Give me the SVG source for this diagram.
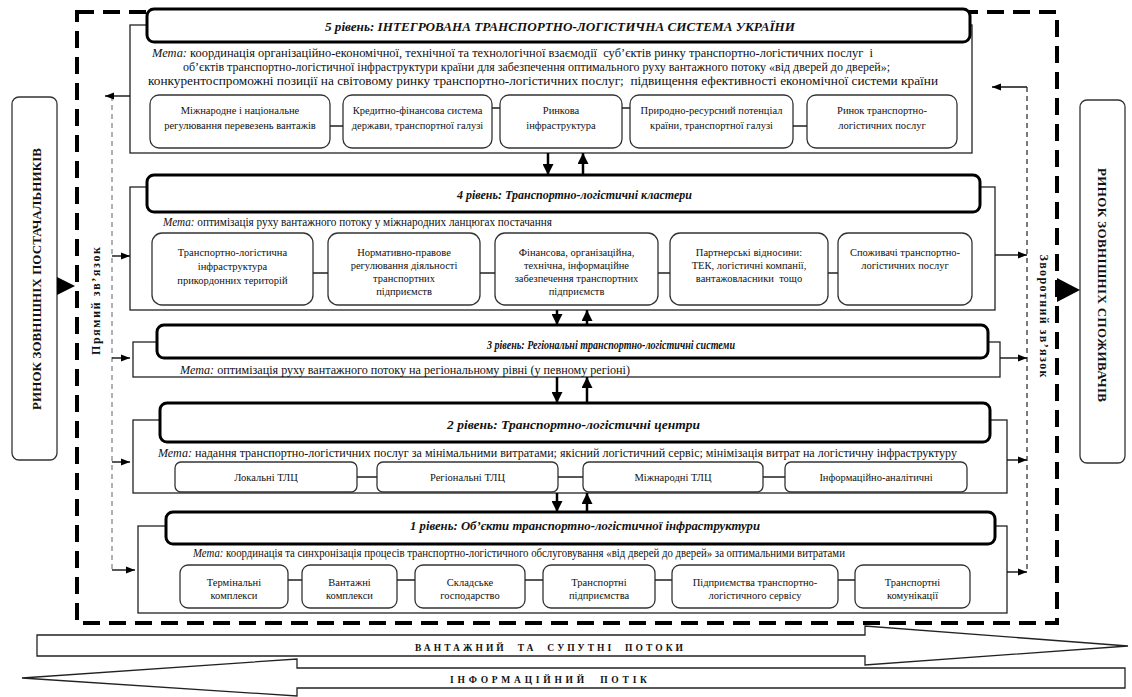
<svg xmlns="http://www.w3.org/2000/svg" width="1132" height="697" viewBox="0 0 1132 697">
<defs>
<style>
.t{font-family:"Liberation Serif","Times New Roman",serif;fill:#111}
.ttl{font-size:12.5px;font-weight:bold;font-style:italic}
.goal{font-size:11.5px}
.it{font-style:italic}
.bx{font-size:10.5px;text-anchor:middle}
.tb{fill:#fff;stroke:#000;stroke-width:3}
.fr{fill:#fff;stroke:#222;stroke-width:1.3}
.sb{fill:#fff;stroke:#333;stroke-width:1.3}
.ln{stroke:#222;stroke-width:1.3;fill:none}
.big{stroke:#000;stroke-width:2.5;fill:none}
.sm{stroke:#111;stroke-width:1.4;fill:none}
.side{font-size:13px;font-weight:bold;text-anchor:middle}
.fb{font-size:12px;font-weight:bold;text-anchor:middle}
.flow{fill:#fff;stroke:#222;stroke-width:1.3}
.ft{font-size:9.5px;font-weight:bold;white-space:pre}
.pre{white-space:pre}
</style>
<marker id="ah" markerUnits="userSpaceOnUse" markerWidth="11" markerHeight="11" viewBox="0 0 10 10" refX="10" refY="5" orient="auto"><path d="M0,0 L10,5 L0,10 z" fill="#000"/></marker>
<marker id="as" markerUnits="userSpaceOnUse" markerWidth="9" markerHeight="9" viewBox="0 0 10 10" refX="10" refY="5" orient="auto"><path d="M0,1 L10,5 L0,9 z" fill="#000"/></marker>
</defs>
<rect width="1132" height="697" fill="#fff"/>

<g id="outer-border">
<rect x="77" y="12" width="980" height="611" fill="none" stroke="#000" stroke-width="4" stroke-dasharray="17 9"/>
</g>

<g id="supplier-market">
<rect x="12" y="97" width="45" height="363" rx="7" fill="#fff" stroke="#333" stroke-width="1.3"/>
<text class="t side" transform="translate(41,279) rotate(-90)" textLength="262">РИНОК ЗОВНІШНІХ ПОСТАЧАЛЬНИКІВ</text>
</g>
<g id="consumer-market">
<rect x="1080" y="100" width="45" height="363" rx="7" fill="#fff" stroke="#333" stroke-width="1.3"/>
<text class="t side" transform="translate(1098,285) rotate(90)" textLength="234">РИНОК ЗОВНІШНІХ СПОЖИВАЧІВ</text>
</g>
<g id="direct-link-label"><text class="t fb" transform="translate(100,301) rotate(-90)" textLength="108">Прямий зв’язок</text></g>
<g id="feedback-label"><text class="t fb" transform="translate(1040,316) rotate(90)" textLength="123">Зворотний зв’язок</text></g>

<g id="level5">
<rect class="fr" x="130" y="25" width="842" height="128"/>
<rect class="tb" x="147" y="9" width="823" height="33" rx="7"/>
<text class="t ttl" x="325" y="31" textLength="470" lengthAdjust="spacingAndGlyphs">5 рівень: ІНТЕГРОВАНА ТРАНСПОРТНО-ЛОГІСТИЧНА СИСТЕМА УКРАЇНИ</text>
<text class="t goal pre" x="152" y="57" textLength="721" lengthAdjust="spacingAndGlyphs"><tspan class="it">Мета:</tspan> координація організаційно-економічної, технічної та технологічної взаємодії  суб’єктів ринку транспортно-логістичних послуг  і</text>
<text class="t goal" x="183" y="71" textLength="707" lengthAdjust="spacingAndGlyphs">об’єктів транспортно-логістичної інфраструктури країни для забезпечення оптимального руху вантажного потоку «від дверей до дверей»;</text>
<text class="t goal pre" x="148" y="85" textLength="790" lengthAdjust="spacingAndGlyphs">конкурентоспроможні позиції на світовому ринку транспортно-логістичних послуг;  підвищення ефективності економічної системи країни</text>
<g id="l5-b1"><rect class="sb" x="150" y="95" width="180" height="53" rx="9"/><text class="t bx" x="240" y="114">Міжнародне і національне</text><text class="t bx" x="240" y="129">регулювання перевезень вантажів</text></g>
<g id="l5-b2"><rect class="sb" x="343" y="95" width="149" height="53" rx="9"/><text class="t bx" x="417.5" y="114">Кредитно-фінансова система</text><text class="t bx" x="417.5" y="129">держави, транспортної галузі</text></g>
<g id="l5-b3"><rect class="sb" x="500" y="95" width="122" height="53" rx="9"/><text class="t bx" x="561" y="114">Ринкова</text><text class="t bx" x="561" y="129">інфраструктура</text></g>
<g id="l5-b4"><rect class="sb" x="630" y="95" width="163" height="53" rx="9"/><text class="t bx" x="711.5" y="114">Природно-ресурсний потенціал</text><text class="t bx" x="711.5" y="129">країни, транспортної галузі</text></g>
<g id="l5-b5"><rect class="sb" x="807" y="95" width="150" height="53" rx="9"/><text class="t bx" x="882" y="114">Ринок транспортно-</text><text class="t bx" x="882" y="129">логістичних послуг</text></g>
</g>

<g id="level4">
<rect class="fr" x="130" y="187" width="865" height="123"/>
<rect class="tb" x="147" y="175" width="833" height="37" rx="7"/>
<text class="t ttl" x="457" y="199" textLength="235" lengthAdjust="spacingAndGlyphs">4 рівень: Транспортно-логістичні кластери</text>
<text class="t goal" x="163" y="226" textLength="389" lengthAdjust="spacingAndGlyphs"><tspan class="it">Мета:</tspan> оптимізація руху вантажного потоку у міжнародних ланцюгах постачання</text>
<g id="l4-b1"><rect class="sb" x="152" y="233" width="161" height="72" rx="10"/><text class="t bx" x="232.5" y="256">Транспортно-логістична</text><text class="t bx" x="232.5" y="270">інфраструктура</text><text class="t bx" x="232.5" y="284">прикордонних територій</text></g>
<g id="l4-b2"><rect class="sb" x="328" y="233" width="152" height="72" rx="10"/><text class="t bx" x="404" y="256">Нормативно-правове</text><text class="t bx" x="404" y="269">регулювання діяльності</text><text class="t bx" x="404" y="282">транспортних</text><text class="t bx" x="404" y="295">підприємств</text></g>
<g id="l4-b3"><rect class="sb" x="495" y="233" width="163" height="72" rx="10"/><text class="t bx" x="576.5" y="256">Фінансова, організаційна,</text><text class="t bx" x="576.5" y="269">технічна, інформаційне</text><text class="t bx" x="576.5" y="282">забезпечення транспортних</text><text class="t bx" x="576.5" y="295">підприємств</text></g>
<g id="l4-b4"><rect class="sb" x="670" y="233" width="158" height="72" rx="10"/><text class="t bx" x="749" y="256">Партнерські відносини:</text><text class="t bx" x="749" y="269">ТЕК, логістичні компанії,</text><text class="t bx pre" x="749" y="282">вантажовласники  тощо</text></g>
<g id="l4-b5"><rect class="sb" x="838" y="233" width="134" height="72" rx="10"/><text class="t bx" x="905" y="256">Споживачі транспортно-</text><text class="t bx" x="905" y="269">логістичних послуг</text></g>
</g>

<g id="level3">
<rect class="fr" x="133" y="342" width="867" height="35"/>
<rect class="tb" x="157" y="325" width="831" height="33" rx="7"/>
<text class="t ttl" x="487" y="349" textLength="248" lengthAdjust="spacingAndGlyphs">3 рівень: Регіональні транспортно-логістичні системи</text>
<text class="t goal" x="180" y="374" textLength="450" lengthAdjust="spacingAndGlyphs"><tspan class="it">Мета:</tspan> оптимізація руху вантажного потоку на регіональному рівні (у певному регіоні)</text>
</g>

<g id="level2">
<rect class="fr" x="133" y="420" width="874" height="73"/>
<rect class="tb" x="160" y="403" width="830" height="39" rx="7"/>
<text class="t ttl" x="447" y="429" textLength="253" lengthAdjust="spacingAndGlyphs">2 рівень: Транспортно-логістичні центри</text>
<text class="t goal" x="158" y="457" textLength="799" lengthAdjust="spacingAndGlyphs"><tspan class="it">Мета:</tspan> надання транспортно-логістичних послуг за мінімальними витратами; якісний логістичний сервіс; мінімізація витрат на логістичну інфраструктуру</text>
<g id="l2-b1"><rect class="sb" x="175" y="462" width="182" height="30" rx="6"/><text class="t bx" x="266" y="481">Локальні ТЛЦ</text></g>
<g id="l2-b2"><rect class="sb" x="377" y="462" width="181" height="30" rx="6"/><text class="t bx" x="467.5" y="481">Регіональні ТЛЦ</text></g>
<g id="l2-b3"><rect class="sb" x="583" y="462" width="180" height="30" rx="6"/><text class="t bx" x="673" y="481">Міжнародні ТЛЦ</text></g>
<g id="l2-b4"><rect class="sb" x="785" y="462" width="182" height="30" rx="6"/><text class="t bx" x="876" y="481">Інформаційно-аналітичні</text></g>
</g>

<g id="level1">
<rect class="fr" x="138" y="526" width="869" height="87"/>
<rect class="tb" x="166" y="512" width="829" height="32" rx="7"/>
<text class="t ttl" x="410" y="530" textLength="350" lengthAdjust="spacingAndGlyphs">1 рівень: Об’єкти транспортно-логістичної інфраструктури</text>
<text class="t goal" x="193" y="557" textLength="652" lengthAdjust="spacingAndGlyphs"><tspan class="it">Мета:</tspan> координація та синхронізація процесів транспортно-логістичного обслуговування «від дверей до дверей» за оптимальними витратами</text>
<g id="l1-b1"><rect class="sb" x="180" y="565" width="108" height="43" rx="8"/><text class="t bx" x="234" y="586">Термінальні</text><text class="t bx" x="234" y="599">комплекси</text></g>
<g id="l1-b2"><rect class="sb" x="302" y="565" width="95" height="43" rx="8"/><text class="t bx" x="349.5" y="586">Вантажні</text><text class="t bx" x="349.5" y="599">комплекси</text></g>
<g id="l1-b3"><rect class="sb" x="415" y="565" width="110" height="43" rx="8"/><text class="t bx" x="470" y="586">Складське</text><text class="t bx" x="470" y="599">господарство</text></g>
<g id="l1-b4"><rect class="sb" x="543" y="565" width="112" height="43" rx="8"/><text class="t bx" x="599" y="586">Транспортні</text><text class="t bx" x="599" y="599">підприємства</text></g>
<g id="l1-b5"><rect class="sb" x="672" y="565" width="166" height="43" rx="8"/><text class="t bx" x="755" y="586">Підприємства транспортно-</text><text class="t bx" x="755" y="599">логістичного сервісу</text></g>
<g id="l1-b6"><rect class="sb" x="855" y="565" width="115" height="43" rx="8"/><text class="t bx" x="912.5" y="586">Транспортні</text><text class="t bx" x="912.5" y="599">комунікації</text></g>
</g>

<g id="connectors">
<path class="ln" d="M330,126H343 M492,108H500 M622,108H630 M793,126H807"/>
<path class="ln" d="M313,273H328 M480,273H495 M658,273H670 M828,273H838"/>
<path class="ln" d="M357,477H377 M558,477H583 M763,477H785"/>
<path class="ln" d="M288,580H302 M397,580H415 M525,580H543 M655,580H672 M838,580H855"/>
<path class="big" d="M548,153V175" marker-end="url(#ah)"/>
<path class="big" d="M583,175V153" marker-end="url(#ah)"/>
<path class="big" d="M557,310V325" marker-end="url(#ah)"/>
<path class="big" d="M587,325V310" marker-end="url(#ah)"/>
<path class="big" d="M557,377V403" marker-end="url(#ah)"/>
<path class="big" d="M587,403V377" marker-end="url(#ah)"/>
<path class="big" d="M557,493V512" marker-end="url(#ah)"/>
<path class="big" d="M587,512V493" marker-end="url(#ah)"/>
<path d="M112,96V570" stroke="#888" stroke-width="1.3" stroke-dasharray="5 4" fill="none"/>
<path d="M1027,87V572" stroke="#333" stroke-width="1.3" stroke-dasharray="5 4" fill="none"/>
<path class="sm" d="M130,96H105" marker-end="url(#as)"/>
<path class="sm" d="M112,256H130" marker-end="url(#as)"/>
<path class="sm" d="M112,358H130" marker-end="url(#as)"/>
<path class="sm" d="M112,462H130" marker-end="url(#as)"/>
<path class="sm" d="M112,570H135" marker-end="url(#as)"/>
<path class="sm" d="M1027,87H992" marker-end="url(#as)"/>
<path class="sm" d="M995,255H1027" marker-end="url(#as)"/>
<path class="sm" d="M1000,358H1027" marker-end="url(#as)"/>
<path class="sm" d="M1007,460H1027" marker-end="url(#as)"/>
<path class="sm" d="M1007,572H1027" marker-end="url(#as)"/>
<polygon points="57,277 75,286 57,295" fill="#000"/>
<polygon points="1057,278 1080,290 1057,302" fill="#000"/>
</g>

<g id="cargo-flow">
<polygon class="flow" points="37,635 865,635 865,626 1128,646 865,665 865,656 37,656"/>
<text class="t ft" x="415" y="651" textLength="268">ВАНТАЖНИЙ  ТА  СУПУТНІ  ПОТОКИ</text>
</g>
<g id="info-flow">
<polygon class="flow" points="22,678 297,659 297,668 1125,668 1125,688 297,688 297,696"/>
<text class="t ft" x="450" y="683" textLength="197">ІНФОРМАЦІЙНИЙ  ПОТІК</text>
</g>
</svg>
